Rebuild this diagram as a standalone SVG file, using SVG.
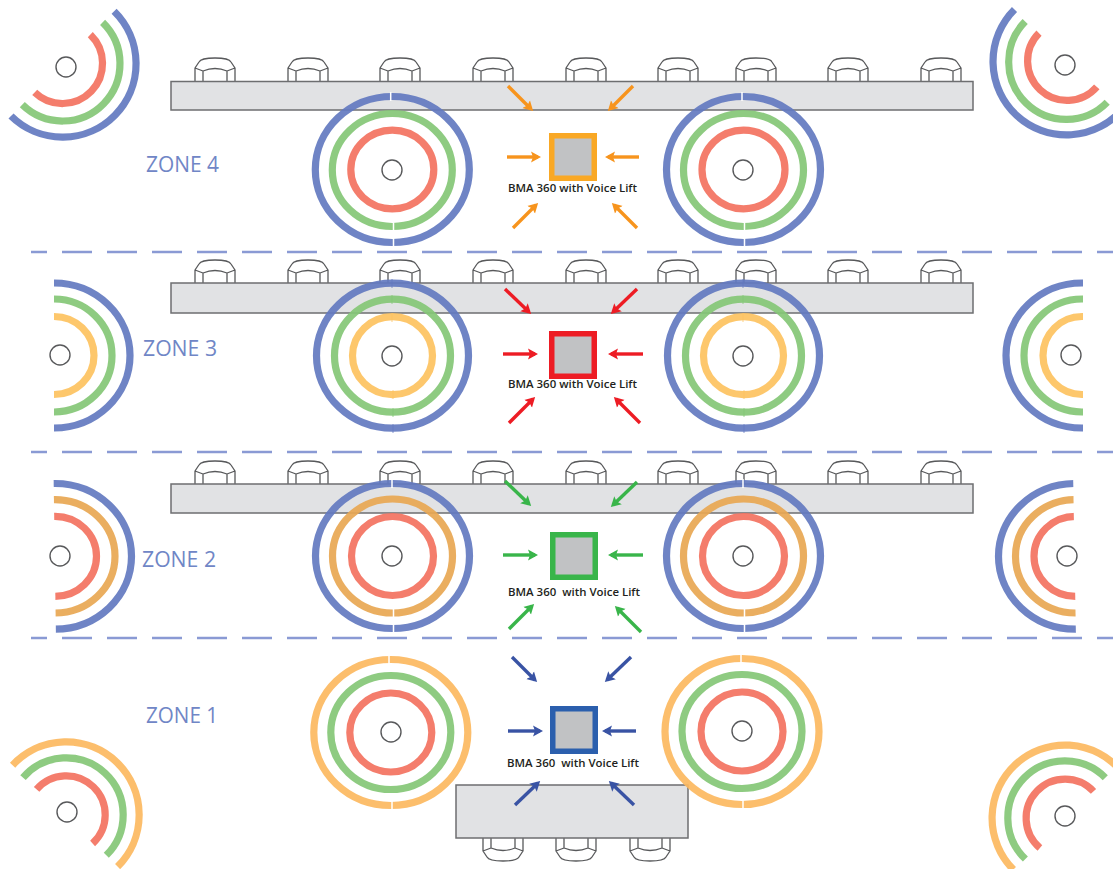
<svg xmlns="http://www.w3.org/2000/svg" width="1113" height="869" viewBox="0 0 1113 869">
<style>
.bar{fill:#e1e2e4;stroke:#6d6e70;stroke-width:1.5}
.bump{fill:none;stroke:#58595b;stroke-width:1.3;stroke-linejoin:round}
.ring,.arc{fill:none;stroke-width:7.2;stroke-opacity:.92}
.b{stroke:#6379c0}.g{stroke:#84c776}.r{stroke:#f3725f}.y{stroke:#fdc25f}.o{stroke:#fcb95f}.t{stroke:#e8a752}
.hub{fill:#fff;stroke:#58595b;stroke-width:1.4}
.seam{fill:none;stroke:#fff;stroke-width:1.5}
.sd3{fill:none;stroke-width:1.5;stroke-opacity:.5}
.zone{font-family:"Open Sans","Liberation Sans",sans-serif;font-size:21px;fill:#7086c6;text-anchor:middle}
.lbl{font-family:"Open Sans","Liberation Sans",sans-serif;font-size:11px;font-weight:600;fill:#231f20}
.sq{fill:#c1c2c4;stroke-width:5.5}
.dash{stroke:#8a9ad4;stroke-width:2.5;stroke-dasharray:30 15;stroke-dashoffset:14}
.ar{fill:none;stroke-width:3.4}
.ao{stroke:#f7941d;marker-end:url(#mo)}.ar3{stroke:#ed1c24;marker-end:url(#mr)}.ag{stroke:#39b54a;marker-end:url(#mg)}.an{stroke:#3953a4;marker-end:url(#mn)}
</style>
<defs>
<g id="bumpd"><path class="bump" d="M-20,0V-13L-16,-19Q-14,-23 0,-23Q14,-23 16,-19L20,-13V0M-12,0V-10Q0,-15 12,-10V0M-20,-13L-12,-10M20,-13L12,-10"/></g>
<marker id="mo" markerUnits="userSpaceOnUse" markerWidth="12" markerHeight="12" refX="7" refY="6" orient="auto"><path d="M0,0.500L10,6L0,11.500L2,6Z" fill="#f7941d"/></marker>
<marker id="mr" markerUnits="userSpaceOnUse" markerWidth="12" markerHeight="12" refX="7" refY="6" orient="auto"><path d="M0,0.500L10,6L0,11.500L2,6Z" fill="#ed1c24"/></marker>
<marker id="mg" markerUnits="userSpaceOnUse" markerWidth="12" markerHeight="12" refX="7" refY="6" orient="auto"><path d="M0,0.500L10,6L0,11.500L2,6Z" fill="#39b54a"/></marker>
<marker id="mn" markerUnits="userSpaceOnUse" markerWidth="12" markerHeight="12" refX="7" refY="6" orient="auto"><path d="M0,0.500L10,6L0,11.500L2,6Z" fill="#3953a4"/></marker>
<clipPath id="c3l"><rect x="54" y="270" width="100" height="170"/></clipPath>
<clipPath id="c3r"><rect x="990" y="270" width="93" height="170"/></clipPath>
<clipPath id="c2l"><polygon points="53.500,470 140,470 140,640 56,640"/></clipPath>
<clipPath id="c2r"><polygon points="985,470 1073,470 1076,640 985,640"/></clipPath>
</defs>

<g id="dividers">
<line class="dash" x1="31" y1="252" x2="1113" y2="252"/>
<line class="dash" x1="31" y1="452" x2="1113" y2="452"/>
<line class="dash" x1="31" y1="638" x2="1113" y2="638"/>
</g>

<g id="table-zone4">
<use href="#bumpd" x="215" y="81"/><use href="#bumpd" x="308" y="81"/><use href="#bumpd" x="400" y="81"/><use href="#bumpd" x="493" y="81"/><use href="#bumpd" x="586" y="81"/><use href="#bumpd" x="678" y="81"/><use href="#bumpd" x="756" y="81"/><use href="#bumpd" x="848" y="81"/><use href="#bumpd" x="941" y="81"/>
<rect class="bar" x="171" y="81.500" width="802" height="28.500"/>
</g>
<g id="table-zone3">
<use href="#bumpd" x="215" y="283"/><use href="#bumpd" x="308" y="283"/><use href="#bumpd" x="400" y="283"/><use href="#bumpd" x="493" y="283"/><use href="#bumpd" x="586" y="283"/><use href="#bumpd" x="678" y="283"/><use href="#bumpd" x="756" y="283"/><use href="#bumpd" x="848" y="283"/><use href="#bumpd" x="941" y="283"/>
<rect class="bar" x="171" y="283" width="802" height="30"/>
</g>
<g id="table-zone2">
<use href="#bumpd" x="215" y="484"/><use href="#bumpd" x="308" y="484"/><use href="#bumpd" x="400" y="484"/><use href="#bumpd" x="493" y="484"/><use href="#bumpd" x="586" y="484"/><use href="#bumpd" x="678" y="484"/><use href="#bumpd" x="756" y="484"/><use href="#bumpd" x="848" y="484"/><use href="#bumpd" x="941" y="484"/>
<rect class="bar" x="171" y="484" width="802" height="29"/>
</g>
<g id="table-zone1">
<use href="#bumpd" transform="translate(503,838) scale(1,-1)"/><use href="#bumpd" transform="translate(576,838) scale(1,-1)"/><use href="#bumpd" transform="translate(650,838) scale(1,-1)"/>
<rect class="bar" x="456" y="785" width="232" height="53"/>
</g>

<g id="corner-top-left">
<path class="arc b" d="M114.100,11.200A73.500,73.500 0 1 1 11,116"/>
<path class="arc g" d="M102.600,22.300A57.500,57.500 0 1 1 22.300,104.700"/>
<path class="arc r" d="M90.300,34.700A40,40 0 1 1 34.700,92.300"/>
<circle class="hub" cx="66" cy="67" r="10"/>
</g>
<g id="corner-top-right">
<path class="arc b" d="M1014.500,9.500A73.500,73.500 0 1 0 1122.800,108.700"/>
<path class="arc g" d="M1025.200,21.500A57.500,57.500 0 1 0 1107.200,102.200"/>
<path class="arc r" d="M1039,33.100A39.500,39.500 0 1 0 1096.800,86.900"/>
<circle class="hub" cx="1065" cy="65" r="10"/>
</g>
<g id="corner-bottom-left">
<path class="arc o" d="M12.600,765.200A73,73 0 1 1 117.600,866.600"/>
<path class="arc g" d="M23,777.600A57,57 0 1 1 106.300,855.300"/>
<path class="arc r" d="M36.600,789.400A39,39 0 1 1 92.600,843.500"/>
<circle class="hub" cx="67" cy="812" r="10"/>
</g>
<g id="corner-bottom-right">
<path class="arc o" d="M1013.400,869.600A73,73 0 1 1 1120.900,771"/>
<path class="arc g" d="M1025.400,859A57,57 0 1 1 1105.300,777.700"/>
<path class="arc r" d="M1039.900,847.900A39,39 0 1 1 1093.500,791.400"/>
<circle class="hub" cx="1065" cy="816" r="10"/>
</g>

<g id="side-3-left"><g clip-path="url(#c3l)">
<ellipse class="ring b" cx="54" cy="355.500" rx="76" ry="72.500"/><ellipse class="ring g" cx="54" cy="355.500" rx="58" ry="56.500"/><ellipse class="ring y" cx="54" cy="355.500" rx="40" ry="39"/></g>
<circle class="hub" cx="60" cy="355" r="10"/></g>
<g id="side-3-right"><g clip-path="url(#c3r)">
<ellipse class="ring b" cx="1082" cy="355.500" rx="76" ry="72.500"/><ellipse class="ring g" cx="1082" cy="355.500" rx="58" ry="56.500"/><ellipse class="ring y" cx="1082" cy="355.500" rx="39" ry="39"/></g>
<circle class="hub" cx="1071" cy="355" r="10"/></g>
<g id="side-2-left"><g clip-path="url(#c2l)">
<ellipse class="ring b" cx="55" cy="556.300" rx="76.500" ry="72.800"/><ellipse class="ring t" cx="55" cy="556.300" rx="60" ry="56.700"/><ellipse class="ring r" cx="55" cy="556.300" rx="41.500" ry="40"/></g>
<circle class="hub" cx="60" cy="556" r="10"/></g>
<g id="side-2-right"><g clip-path="url(#c2r)">
<ellipse class="ring b" cx="1075.500" cy="556.300" rx="77" ry="72.800"/><ellipse class="ring t" cx="1075.500" cy="556.300" rx="60" ry="56.700"/><ellipse class="ring r" cx="1075.500" cy="556.300" rx="41.500" ry="40"/></g>
<circle class="hub" cx="1067" cy="556" r="10"/></g>

<g id="mic-4-left"><ellipse class="ring b" cx="392.300" cy="169.500" rx="77" ry="73"/><ellipse class="ring g" cx="392.300" cy="170" rx="60" ry="56.500"/><ellipse class="ring r" cx="392.300" cy="169.500" rx="41.500" ry="39.300"/><circle class="hub" cx="392" cy="170" r="10"/><path class="seam" d="M390.700,92V101M393.500,238V247M393.500,222V231"/></g>
<g id="mic-4-right"><ellipse class="ring b" cx="743.500" cy="169.500" rx="77" ry="73"/><ellipse class="ring g" cx="743.500" cy="170" rx="60" ry="56.500"/><ellipse class="ring r" cx="743.500" cy="169.500" rx="41.500" ry="39.300"/><circle class="hub" cx="743" cy="170" r="10"/><path class="seam" d="M742,92V101M744.500,238V247M744.500,222V231"/></g>
<g id="mic-3-left"><ellipse class="ring b" cx="392.500" cy="355.700" rx="76" ry="72.500"/><ellipse class="ring g" cx="392.500" cy="355.700" rx="58" ry="56.500"/><ellipse class="ring y" cx="392.500" cy="355.700" rx="40" ry="39"/><circle class="hub" cx="392" cy="356" r="10"/>
<path class="sd3 b" d="M392,279V288M393,424V433"/><path class="sd3 g" d="M392,295V304M393,408V417"/><path class="sd3 y" d="M392,313V322M393,390V399"/></g>
<g id="mic-3-right"><ellipse class="ring b" cx="743.500" cy="355.700" rx="76" ry="72.500"/><ellipse class="ring g" cx="743.500" cy="355.700" rx="58" ry="56.500"/><ellipse class="ring y" cx="743.500" cy="355.700" rx="40" ry="39"/><circle class="hub" cx="743" cy="356" r="10"/>
<path class="sd3 b" d="M743,279V288M744,424V433"/><path class="sd3 g" d="M743,295V304M744,408V417"/><path class="sd3 y" d="M743,313V322M744,390V399"/></g>
<g id="mic-2-left"><ellipse class="ring b" cx="392.500" cy="556" rx="77" ry="72.500"/><ellipse class="ring t" cx="392.500" cy="556" rx="60" ry="57"/><ellipse class="ring r" cx="392.500" cy="556" rx="41" ry="39.500"/><circle class="hub" cx="392" cy="556" r="10"/><path class="seam" d="M392,479V488M393.500,624V633M393.500,608V617"/></g>
<g id="mic-2-right"><ellipse class="ring b" cx="743.500" cy="556" rx="77" ry="72.500"/><ellipse class="ring t" cx="743.500" cy="556" rx="60" ry="57"/><ellipse class="ring r" cx="743.500" cy="556" rx="41" ry="39.500"/><circle class="hub" cx="743" cy="556" r="10"/><path class="seam" d="M743,479V488M744.500,624V633M744.500,608V617"/></g>
<g id="mic-1-left"><ellipse class="ring o" cx="390.800" cy="732.500" rx="77" ry="73"/><ellipse class="ring g" cx="390.800" cy="732.500" rx="60" ry="57"/><ellipse class="ring r" cx="390.800" cy="732.500" rx="41" ry="39.500"/><circle class="hub" cx="391" cy="732" r="10"/>
<path class="seam" d="M389,655V664M392,801V810"/></g>
<g id="mic-1-right"><ellipse class="ring o" cx="742" cy="731.500" rx="77" ry="73"/><ellipse class="ring g" cx="742" cy="731.500" rx="60" ry="57"/><ellipse class="ring r" cx="742" cy="731.500" rx="41" ry="39.500"/><circle class="hub" cx="742" cy="731" r="10"/>
<path class="seam" d="M741,654V663M743,800V809"/></g>

<g id="bma-4"><rect class="sq" x="551.750" y="135.750" width="42.500" height="42.500" stroke="#f9a825"/><text class="lbl" x="508" y="192" textLength="129" lengthAdjust="spacingAndGlyphs">BMA 360 with Voice Lift</text></g>
<g id="bma-3"><rect class="sq" x="551.750" y="333.750" width="42.500" height="42.500" stroke="#ed1c24"/><text class="lbl" x="508" y="388" textLength="129" lengthAdjust="spacingAndGlyphs">BMA 360 with Voice Lift</text></g>
<g id="bma-2"><rect class="sq" x="552.750" y="534.750" width="42.500" height="42.500" stroke="#39b54a"/><text class="lbl" x="508" y="596" textLength="132" lengthAdjust="spacingAndGlyphs" xml:space="preserve">BMA 360  with Voice Lift</text></g>
<g id="bma-1"><rect class="sq" x="552.750" y="708.750" width="42.500" height="42.500" stroke="#2b5fad"/><text class="lbl" x="507" y="767" textLength="132" lengthAdjust="spacingAndGlyphs" xml:space="preserve">BMA 360  with Voice Lift</text></g>

<g id="connectors">
<path class="ar ao" d="M508,86L531,109"/><path class="ar ao" d="M633,86L610,109"/><path class="ar ao" d="M507,157L538,157"/><path class="ar ao" d="M639,157L608,157"/><path class="ar ao" d="M513,228L536,205"/><path class="ar ao" d="M637,228L614,205"/>
<path class="ar ar3" d="M505,289L529,312"/><path class="ar ar3" d="M637,289L613,312"/><path class="ar ar3" d="M503,354L535,354"/><path class="ar ar3" d="M643,354L611,354"/><path class="ar ar3" d="M509,423L533,399"/><path class="ar ar3" d="M640,423L616,399"/>
<path class="ar ag" d="M505,481L529,504"/><path class="ar ag" d="M637,482L613,505"/><path class="ar ag" d="M503,555L535,555"/><path class="ar ag" d="M643,555L611,555"/><path class="ar ag" d="M509,629L532,606"/><path class="ar ag" d="M641,632L617,608"/>
<path class="ar an" d="M512,657L535,680"/><path class="ar an" d="M631,657L607,680"/><path class="ar an" d="M508,731L540,731"/><path class="ar an" d="M636,731L605,731"/><path class="ar an" d="M515,805L538,783"/><path class="ar an" d="M634,805L611,783"/>
</g>

<g id="zone-labels">
<text class="zone" x="182.500" y="172" textLength="73" lengthAdjust="spacingAndGlyphs">ZONE 4</text>
<text class="zone" x="180" y="356" textLength="74" lengthAdjust="spacingAndGlyphs">ZONE 3</text>
<text class="zone" x="179" y="567" textLength="74" lengthAdjust="spacingAndGlyphs">ZONE 2</text>
<text class="zone" x="182" y="723" textLength="72" lengthAdjust="spacingAndGlyphs">ZONE 1</text>
</g>
</svg>
